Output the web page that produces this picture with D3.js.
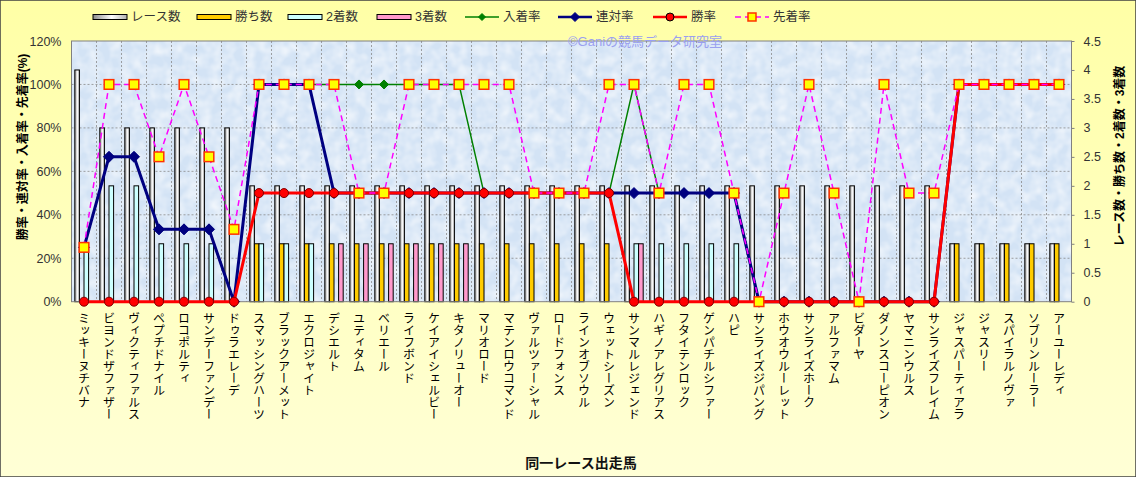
<!DOCTYPE html>
<html><head><meta charset="utf-8">
<script src="https://cdn.jsdelivr.net/npm/d3@7"></script>
<style>body{margin:0;background:#fff} svg{display:block}</style>
</head><body><svg id="c" width="1136" height="477"></svg>
<script>
const categories = ["ミッキーヌチバナ","ビヨンドザファザー","ヴィクティファルス","ペプチドナイル","ロコポルティ","サンデーファンデー","ドゥラエレーデ","スマッシングハーツ","ブラックアーメット","エクロジャイト","デシエルト","ユティタム","ベリエール","ライフボンド","ケイアイシェルビー","キタノリューオー","マリオロード","マテンロウコマンド","ヴァルツァーシャル","ロードフォンス","ラインオブソウル","ウェットシーズン","サンマルレジェンド","ハギノアレグリアス","フタイテンロック","ゲンパチルシファー","ハピ","サンライズジパング","ホウオウルーレット","サンライズホーク","アルファマム","ビダーヤ","ダノンスコーピオン","ヤマニンウルス","サンライズフレイム","ジャスパーティアラ","ジャスリー","スパイラルノヴァ","ソブリンルーラー","アーユーレディ"];
const races   = [4,3,3,3,3,3,3,2,2,2, 2,2,2,2,2,2,2,2,2,2, 2,2,2,2,2,2,2,2,2,2, 2,2,2,2,2,1,1,1,1,1];
const wins    = [0,0,0,0,0,0,0,1,1,1, 1,1,1,1,1,1,1,1,1,1, 1,1,0,0,0,0,0,0,0,0, 0,0,0,0,0,1,1,1,1,1];
const seconds = [1,2,2,1,1,1,0,1,1,1, 0,0,0,0,0,0,0,0,0,0, 0,0,1,1,1,1,1,0,0,0, 0,0,0,0,0,0,0,0,0,0];
const thirds  = [0,0,0,0,0,0,0,0,0,0, 1,1,1,1,1,1,0,0,0,0, 0,0,1,0,0,0,0,0,0,0, 0,0,0,0,0,0,0,0,0,0];
const nyuchakuRate = [25,66.7,66.7,33.3,33.3,33.3,0,100,100,100, 100,100,100,100,100,100,50,50,50,50, 50,50,100,50,50,50,50,0,0,0, 0,0,0,0,0,100,100,100,100,100];
const rentaiRate   = [25,66.7,66.7,33.3,33.3,33.3,0,100,100,100, 50,50,50,50,50,50,50,50,50,50, 50,50,50,50,50,50,50,0,0,0, 0,0,0,0,0,100,100,100,100,100];
const winRate      = [0,0,0,0,0,0,0,50,50,50, 50,50,50,50,50,50,50,50,50,50, 50,50,0,0,0,0,0,0,0,0, 0,0,0,0,0,100,100,100,100,100];
const senchakuRate = [25,100,100,66.7,100,66.7,33.3,100,100,100, 100,50,50,100,100,100,100,100,50,50, 50,100,100,50,100,100,50,0,50,100, 50,0,100,50,50,100,100,100,100,100];
const leftTicks = [0,20,40,60,80,100,120];
const rightTicks = [0,0.5,1,1.5,2,2.5,3,3.5,4,4.5];

const FONT = "'Liberation Sans','Noto Sans CJK JP',sans-serif";
const svg = d3.select('#c').style('font-family', FONT);
const W = 1136, H = 477;
const P = {l:71.5, r:1071.5, t:41, b:301.7};

const defs = svg.append('defs');
const bg = defs.append('linearGradient').attr('id','bg').attr('x1',0).attr('y1',0).attr('x2',0).attr('y2',1);
bg.append('stop').attr('offset',0).attr('stop-color','#FFFFA6');
bg.append('stop').attr('offset',1).attr('stop-color','#FFFFD6');
const rg = defs.append('linearGradient').attr('id','raceg').attr('x1',0).attr('y1',0).attr('x2',1).attr('y2',0);
rg.append('stop').attr('offset',0).attr('stop-color','#8c8c8c');
rg.append('stop').attr('offset',0.55).attr('stop-color','#ffffff');
rg.append('stop').attr('offset',1).attr('stop-color','#b0b0b0');
const f = defs.append('filter').attr('id','tex').attr('x',0).attr('y',0).attr('width','100%').attr('height','100%');
f.append('feTurbulence').attr('type','fractalNoise').attr('baseFrequency','0.09').attr('numOctaves',2).attr('seed',4);
f.append('feColorMatrix').attr('type','matrix').attr('values','0 0 0 0 1  0 0 0 0 1  0 0 0 0 1  1.1 0 0 0 -0.35');

svg.append('rect').attr('width',W).attr('height',H).attr('fill','url(#bg)').attr('stroke','#404040').attr('stroke-width',1.5);

// plot area
svg.append('rect').attr('x',P.l).attr('y',P.t).attr('width',P.r-P.l).attr('height',P.b-P.t).attr('fill','#D3E3F5');
svg.append('rect').attr('x',P.l).attr('y',P.t).attr('width',P.r-P.l).attr('height',P.b-P.t).attr('fill','#fff').attr('filter','url(#tex)');

const x = d3.scaleBand().domain(categories).range([P.l,P.r]).padding(0);
const xs = d3.scaleBand().domain(['r','w','s','t']).range([0,x.bandwidth()]).paddingInner(0).paddingOuter(0.72);
const yL = d3.scaleLinear().domain([0,120]).range([P.b,P.t]);
const yR = d3.scaleLinear().domain([0,4.5]).range([P.b,P.t]);

// gridlines
const grid = svg.append('g').attr('stroke','#8a8a8a').attr('stroke-width',0.8).attr('stroke-dasharray','2,2');
grid.selectAll('line.h').data(leftTicks.slice(1,-1)).join('line').attr('x1',P.l).attr('x2',P.r).attr('y1',d=>yL(d)).attr('y2',d=>yL(d));
grid.selectAll('line.v').data(categories.slice(1)).join('line').attr('x1',d=>x(d)).attr('x2',d=>x(d)).attr('y1',P.t).attr('y2',P.b);

// bars
const barSeries = [
  {key:'r', vals:races, fill:'url(#raceg)'},
  {key:'w', vals:wins, fill:'#FFCC00'},
  {key:'s', vals:seconds, fill:'#CCFFFF'},
  {key:'t', vals:thirds, fill:'#FF99CC'}
];
barSeries.forEach(s=>{
  svg.append('g').selectAll('rect').data(categories.map((c,i)=>({c,v:s.vals[i]})).filter(d=>d.v>0)).join('rect')
    .attr('x',d=>x(d.c)+xs(s.key)).attr('width',xs.bandwidth())
    .attr('y',d=>yR(d.v)).attr('height',d=>yR(0)-yR(d.v))
    .attr('fill',s.fill).attr('stroke','#000').attr('stroke-width',1);
});

svg.append('rect').attr('x',P.l).attr('y',P.t).attr('width',P.r-P.l).attr('height',P.b-P.t).attr('fill','none').attr('stroke','#808080').attr('stroke-width',1);

const cx = c => x(c)+x.bandwidth()/2;
const diamond = r => `M0,${-r}L${r},0L0,${r}L${-r},0Z`;
const lineSeries = [
  {vals:nyuchakuRate, color:'#008000', w:1.5, dash:null, marker:'diamond', size:4.5, mfill:'#008000', mstroke:'#008000'},
  {vals:rentaiRate, color:'#000080', w:3, dash:null, marker:'diamond', size:5.5, mfill:'#000080', mstroke:'#000080'},
  {vals:winRate, color:'#FF0000', w:3, dash:null, marker:'circle', size:4.5, mfill:'#FF0000', mstroke:'#800000'},
  {vals:senchakuRate, color:'#FF00FF', w:1.5, dash:'6,4', marker:'square', size:4.8, mfill:'#FFFF00', mstroke:'#FF3300'}
];
const lineGen = d3.line().x(d=>cx(d.c)).y(d=>yL(d.v));
lineSeries.forEach(s=>{
  const data = categories.map((c,i)=>({c,v:s.vals[i]}));
  svg.append('path').datum(data).attr('d',lineGen).attr('fill','none').attr('stroke',s.color).attr('stroke-width',s.w).attr('stroke-dasharray',s.dash);
  const g = svg.append('g');
  data.forEach(d=>{
    const X=cx(d.c), Y=yL(d.v);
    if(s.marker==='diamond') g.append('path').attr('d',diamond(s.size)).attr('transform',`translate(${X},${Y})`).attr('fill',s.mfill).attr('stroke',s.mstroke);
    else if(s.marker==='circle') g.append('circle').attr('cx',X).attr('cy',Y).attr('r',s.size).attr('fill',s.mfill).attr('stroke',s.mstroke).attr('stroke-width',1);
    else g.append('rect').attr('x',X-s.size).attr('y',Y-s.size).attr('width',2*s.size).attr('height',2*s.size).attr('fill',s.mfill).attr('stroke',s.mstroke).attr('stroke-width',1.5);
  });
});

// axes
const axL = svg.append('g').attr('transform',`translate(${P.l},0)`).call(d3.axisLeft(yL).tickValues(leftTicks).tickFormat(d=>d+'%').tickSize(0).tickPadding(10));
const axR = svg.append('g').attr('transform',`translate(${P.r},0)`).call(d3.axisRight(yR).tickValues(rightTicks).tickFormat(d=>String(d)).tickSize(3).tickPadding(9));
[axL,axR].forEach(a=>{a.select('.domain').remove(); a.selectAll('text').attr('fill','#333').style('font-size','12.5px').style('font-family',FONT); a.selectAll('line').attr('stroke','#808080');});

// category labels
svg.append('g').selectAll('text').data(categories).join('text')
  .attr('x',d=>cx(d)).attr('y',312)
  .style('writing-mode','vertical-rl').style('text-orientation','upright')
  .style('font-size','12px').style('font-family',"'Noto Sans CJK JP',sans-serif")
  .attr('fill','#000').text(d=>d);

// axis titles
svg.append('text').attr('transform','translate(23,147) rotate(-90)').attr('text-anchor','middle').attr('dominant-baseline','central')
  .style('font-size','12px').style('font-weight','bold').text('勝率・連対率・入着率・先着率(%)');
svg.append('text').attr('transform','translate(1120,156) rotate(-90)').attr('text-anchor','middle').attr('dominant-baseline','central')
  .style('font-size','12px').style('font-weight','bold').text('レース数・勝ち数・2着数・3着数');
svg.append('text').attr('x',581).attr('y',463).attr('text-anchor','middle').attr('dominant-baseline','central')
  .style('font-size','14px').style('font-weight','bold').attr('fill','#111').text('同一レース出走馬');

// watermark
svg.append('text').attr('x',568).attr('y',46).style('font-size','13px').attr('fill','#9AA0F0').text('©Ganiの競馬データ研究室');

// legend
const legend = [
  {t:'レース数', type:'bar', fill:'url(#raceg)', x:93},
  {t:'勝ち数', type:'bar', fill:'#FFCC00', x:197},
  {t:'2着数', type:'bar', fill:'#CCFFFF', x:288},
  {t:'3着数', type:'bar', fill:'#FF99CC', x:377},
  {t:'入着率', type:'line', s:lineSeries[0], x:465},
  {t:'連対率', type:'line', s:lineSeries[1], x:558},
  {t:'勝率', type:'line', s:lineSeries[2], x:653},
  {t:'先着率', type:'line', s:lineSeries[3], x:735}
];
const LY = 17;
legend.forEach(l=>{
  const g = svg.append('g');
  if(l.type==='bar'){
    g.append('rect').attr('x',l.x).attr('y',LY-2.5).attr('width',34).attr('height',5).attr('fill',l.fill).attr('stroke','#000');
  } else {
    const s=l.s;
    g.append('line').attr('x1',l.x).attr('x2',l.x+34).attr('y1',LY).attr('y2',LY).attr('stroke',s.color).attr('stroke-width',s.w===3?2.5:1.5).attr('stroke-dasharray',s.dash);
    const X=l.x+17;
    if(s.marker==='diamond') g.append('path').attr('d',diamond(s.size-1)).attr('transform',`translate(${X},${LY})`).attr('fill',s.mfill).attr('stroke',s.mstroke);
    else if(s.marker==='circle') g.append('circle').attr('cx',X).attr('cy',LY).attr('r',4).attr('fill',s.mfill).attr('stroke','#000');
    else g.append('rect').attr('x',X-4).attr('y',LY-4).attr('width',8).attr('height',8).attr('fill',s.mfill).attr('stroke',s.mstroke).attr('stroke-width',1.5);
  }
  g.append('text').attr('x',l.x+38).attr('y',LY).attr('dominant-baseline','central').style('font-size','12.5px').attr('fill','#333').text(l.t);
});
</script></body></html>
